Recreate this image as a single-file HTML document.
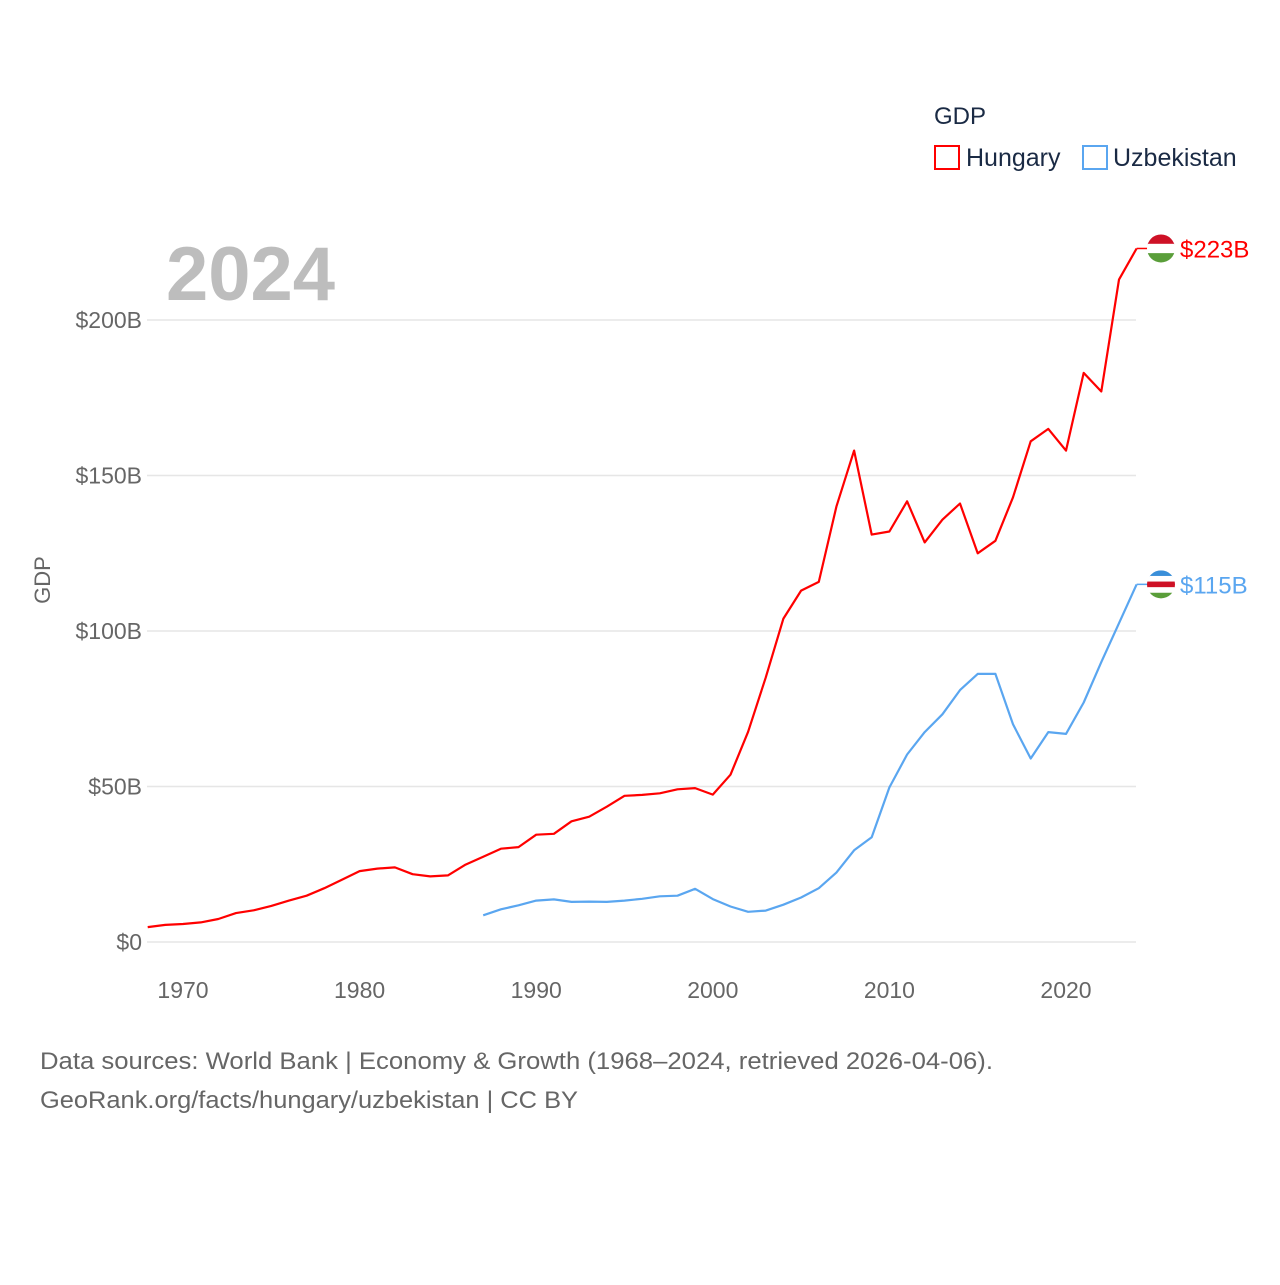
<!DOCTYPE html>
<html><head><meta charset="utf-8"><style>
body{margin:0;background:#fff;font-family:"Liberation Sans",sans-serif}
svg text{font-family:"Liberation Sans",sans-serif}
</style></head><body>
<svg id="chart" width="1280" height="1280" xmlns="http://www.w3.org/2000/svg">
<g id="grid"></g>
<g id="xaxis"></g>
<text x="166" y="300" font-size="76" font-weight="bold" fill="#bdbdbd">2024</text>
<text transform="translate(50,580) rotate(-90)" text-anchor="middle" font-size="22" fill="#666">GDP</text>
<g id="series"></g>
<g>
<text x="934" y="124" font-size="24" fill="#1a2a44">GDP</text>
<g><rect x="935" y="146" width="24" height="23" fill="none" stroke="#ff0000" stroke-width="2"/><text x="966" y="166" font-size="25" fill="#1a2a44">Hungary</text></g>
<g><rect x="1083" y="146" width="24" height="23" fill="none" stroke="#5aa6f0" stroke-width="2"/><text x="1113" y="166" font-size="25" fill="#1a2a44">Uzbekistan</text></g>
</g>
<text x="40" y="1069" font-size="24" fill="#666" textLength="953" lengthAdjust="spacingAndGlyphs">Data sources: World Bank | Economy &amp; Growth (1968–2024, retrieved 2026-04-06).</text>
<text x="40" y="1108" font-size="24" fill="#666" textLength="538" lengthAdjust="spacingAndGlyphs">GeoRank.org/facts/hungary/uzbekistan | CC BY</text>
</svg>
<script>
const hungaryYears=[1968,1969,1970,1971,1972,1973,1974,1975,1976,1977,1978,1979,1980,1981,1982,1983,1984,1985,1986,1987,1988,1989,1990,1991,1992,1993,1994,1995,1996,1997,1998,1999,2000,2001,2002,2003,2004,2005,2006,2007,2008,2009,2010,2011,2012,2013,2014,2015,2016,2017,2018,2019,2020,2021,2022,2023,2024];
const hungaryValues=[4.8,5.5,5.8,6.3,7.4,9.3,10.2,11.6,13.3,14.9,17.3,20.0,22.8,23.6,24.0,21.8,21.1,21.4,24.9,27.4,30.0,30.5,34.5,34.8,38.8,40.3,43.5,47.0,47.3,47.8,49.1,49.5,47.4,53.8,67.6,85.1,104,113,115.8,140,158,131,132,141.7,128.5,135.8,141,125,129,143,161,165,158,183,177,213,223];
const uzbekYears=[1987,1988,1989,1990,1991,1992,1993,1994,1995,1996,1997,1998,1999,2000,2001,2002,2003,2004,2005,2006,2007,2008,2009,2010,2011,2012,2013,2014,2015,2016,2017,2018,2019,2020,2021,2022,2023,2024];
const uzbekValues=[8.6,10.5,11.8,13.3,13.7,12.9,13.0,12.9,13.3,13.9,14.7,14.9,17.1,13.8,11.4,9.7,10.1,12.0,14.3,17.3,22.3,29.5,33.7,49.7,60.3,67.5,73.2,81.0,86.2,86.2,70,59,67.5,66.9,77,90,102.5,115];
const yTicks=[0,50,100,150,200];
const yTickLabels=["$0","$50B","$100B","$150B","$200B"];
const xTicks=[1970,1980,1990,2000,2010,2020];
const NS="http://www.w3.org/2000/svg";
const x=yr=>183+(yr-1970)*(1066-183)/50;
const y=v=>942-v*(942-320)/200;
function mk(t,a,p){const e=document.createElementNS(NS,t);for(const k in a)e.setAttribute(k,a[k]);p.appendChild(e);return e;}
const grid=document.getElementById('grid');
yTicks.forEach((t,i)=>{
 const l=mk('line',{x1:147,x2:1136,y1:y(t),y2:y(t),stroke:'#e6e6e6','stroke-width':1.5},grid);
 
 
 const tx=mk('text',{x:142,y:y(t)+8,'text-anchor':'end','font-size':23,fill:'#666'},grid);
 tx.textContent=yTickLabels[i];
 
 
});
const xa=document.getElementById('xaxis');
xTicks.forEach(t=>{
 const tx=mk('text',{x:x(t),y:998,'text-anchor':'middle','font-size':23,fill:'#666'},xa);
 tx.textContent=t;
 
 
});
const sg=document.getElementById('series');
function line(yrs,vals,col,name,lab){
 const d=yrs.map((yr,i)=>(i?'L':'M')+x(yr).toFixed(1)+','+y(vals[i]).toFixed(1)).join('');
 const p=mk('path',{d:d,fill:'none',stroke:col,'stroke-width':2.2,'stroke-linejoin':'round'},sg);
 
 
 const lx=x(yrs[yrs.length-1]),ly=y(vals[vals.length-1]);
 mk('line',{x1:lx,x2:1150,y1:ly,y2:ly,stroke:col,'stroke-width':1.5},sg);
 const t=mk('text',{x:1180,y:ly+9,'font-size':24,fill:col},sg);
 t.textContent=lab;
 
 
 return ly;
}
const hy=line(hungaryYears,hungaryValues,'#ff0000','hungary','$223B');
const uy=line(uzbekYears,uzbekValues,'#5aa6f0','uzbekistan','$115B');
function flag(cy,cols,name){
 const g=mk('g',{},sg);
 
 
 const id='c'+name;
 const cp=mk('clipPath',{id:id},g);mk('circle',{cx:1161,cy:cy,r:14},cp);
 const h=28/cols.length;
 cols.forEach((c,i)=>mk('rect',{x:1147,y:cy-14+i*h,width:28,height:h+0.5,fill:c,'clip-path':'url(#'+id+')'},g));
}
flag(hy,['#ce1126','#ffffff','#5a9e3a'],'hungary-flag');
flag(uy,['#3a8fd9','#ffffff','#ce1126','#ffffff','#5a9e3a'],'uzbekistan-flag');
</script>
</body></html>
